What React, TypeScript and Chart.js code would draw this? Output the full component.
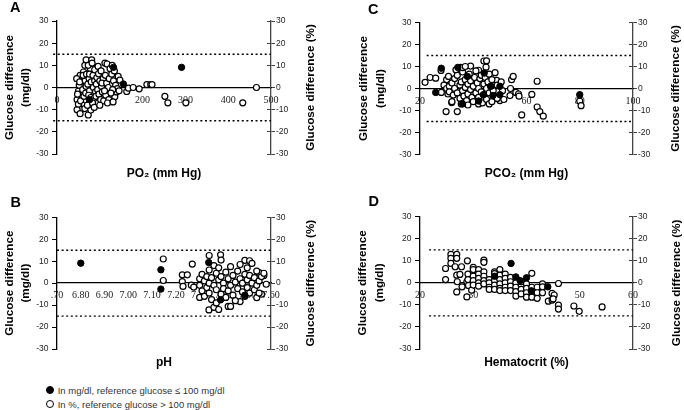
import React, { useEffect, useRef } from 'react';
import { Chart, registerables } from 'chart.js';

Chart.register(...registerables);

type Pt = [number, number];

// ---------- shared ----------
const limitValues = [15, -15];
const diffMin = -30;
const diffMax = 30;
const diffStep = 10;
const leftTitle = ['Glucose difference', '(mg/dl)'];
const rightTitle = 'Glucose difference (%)';
const legendLabels = ['In mg/dl, reference glucose \u2264 100 mg/dl', 'In %, reference glucose > 100 mg/dl'];

// ---------- Panel A: PO2 ----------
const po2Ticks = [0, 100, 200, 300, 400, 500];
const po2TickLabels = ['0', '100', '200', '300', '400', '500'];
const po2LimitSpan = [-9, 500];
const po2Open: Pt[] = [
  [47, -5.5], [47, -10], [54, -11.8], [50, -1.7], [54, 5.5], [46, 4], [52, 1], [48, -3], [50, -7.5], [55, -6], [53, 2.5],
  [65, 10], [68, 12.5], [62, 7], [60, -1], [63, -4], [66, 3], [64, -8], [68, 0.5], [61, 5.5], [67, -2.5], [65, -9.5], [69, 6],
  [73, -12.4], [79, -10.2], [78, 8.5], [81, 12.5], [75, 4], [72, 1.5], [76, -1.5], [74, -3.5], [77, -6.5], [71, -8], [80, 2.5], [79, -4.5], [73, 10], [76, 6],
  [84, 5.5], [88, 3], [85, 0], [90, -2], [86, -5], [92, 1.5], [94, 9.2], [88, 8], [91, -4], [83, -7], [93, 4.5], [87, -9], [95, -1], [82, 11],
  [97, 6.2], [100, 3], [104, 0.5], [98, -3], [102, -5.5], [106, -2], [108, 4], [96, 9.5], [103, 7.5], [109, -6], [105, 2], [100, -8],
  [112, 11], [117, 10.6], [113, 5.5], [116, 2], [119, -1], [114, -3.5], [121, -5.5], [118, -7], [124, 8.5], [122, 4], [120, 0], [111, -1.5],
  [128, 6], [132, 3], [135, -4.2], [131, -6.5], [139, -2], [143, 5], [147, 3.3], [137, 1], [141, -0.5], [130, -1], [134, 7.5], [126, -2.5], [129, 10], [145, -1.5],
  [163, -1.8], [167, -0.3], [178, 0], [192, -0.6], [210, 1.3], [219, 1.3], [222, 1.3], [252, -4], [259, -6.9], [301, -6.9], [434, -6.9], [466, 0],
];
const po2Filled: Pt[] = [[291, 9.1], [132, 9.1], [155, 1.6], [76, -5.5]];

// ---------- Panel B: pH ----------
const phTicks = [6.7, 6.8, 6.9, 7.0, 7.1, 7.2, 7.3, 7.4, 7.5, 7.6];
const phTickLabels = ['.70', '6.80', '6.90', '7.00', '7.10', '7.20', '7.30', '7.40', '7.50', '7.60'];
const phLimitSpan = [6.7, 7.6];
const phOpen: Pt[] = [
  [7.147, 11], [7.147, 1.2], [7.227, 3.8], [7.227, 0.7], [7.23, -1.5], [7.248, 3.8], [7.269, 8.7], [7.265, -0.9], [7.275, -1.8],
  [7.34, 12.6], [7.388, 12.9], [7.339, -12.2], [7.36, -11], [7.38, -12], [7.42, -10.6], [7.43, -10.6], [7.47, -8.4], [7.49, 10.4], [7.51, 10.2],
  [7.54, -6.6], [7.55, 4.8], [7.57, 3.5], [7.56, -5],
  [7.30, 2], [7.30, -1], [7.30, -6.5], [7.31, 4], [7.31, -3.5], [7.32, 1], [7.32, -6], [7.33, 3], [7.33, -2], [7.34, 6], [7.34, 0], [7.34, -4.5],
  [7.35, 2.5], [7.35, -7.5], [7.36, 8], [7.36, -1], [7.37, 4.5], [7.37, -3], [7.37, -9], [7.38, 1.5], [7.38, 7], [7.39, -5], [7.39, 3], [7.39, 10.5],
  [7.40, 0], [7.40, -2.5], [7.41, 5], [7.41, -6.5], [7.42, 2], [7.42, -3.5], [7.43, 7.5], [7.43, -1], [7.44, 3.5], [7.44, -5.5], [7.45, 0.5], [7.45, -8],
  [7.46, 5.5], [7.46, -2.5], [7.47, 2], [7.47, 8.5], [7.48, -4], [7.48, 0], [7.49, 4], [7.49, -6], [7.50, 1.5], [7.50, 7], [7.50, -2], [7.51, 3.5],
  [7.51, -4.5], [7.52, 0], [7.52, 9], [7.53, 2.5], [7.53, -3], [7.54, 5.5], [7.54, -1], [7.55, 1], [7.55, -4.5], [7.56, 3], [7.57, 4.5], [7.58, -0.5],
];
const phFilled: Pt[] = [[6.8, 9.1], [7.137, 6.1], [7.137, -2.7], [7.338, 9.4], [7.388, -7.6], [7.49, -5.5]];

// ---------- Panel C: PCO2 ----------
const pco2Ticks = [20, 40, 60, 80, 100];
const pco2TickLabels = ['20', '40', '60', '80', '100'];
const pco2LimitSpan = [22.5, 100];
const pco2Open: Pt[] = [
  [21.9, 2.8], [23.8, 5], [25.9, 4.7], [27.9, 8.2], [28, -1.8], [30, 4], [30.7, 5.5], [29.8, -10.5], [31.9, -6.4], [34, -10.5],
  [54.4, 4], [55, 5.5], [54, 0], [53.8, -3.2], [56, -1.8], [57, -2.5], [57.2, -3.5], [58.2, -12], [62, -2.7], [64, 3.3], [64, -8.4], [65, -10.5], [66.3, -12.6],
  [80, -5.7], [80.5, -7.8],
  [44, 12.5], [45, 12.6], [44.8, 9.7], [42, 8.3], [39, 10.2], [35.2, 9.6], [48.2, 7.2], [48.8, 3.7], [50, -5.5],
  [29, 1.5], [30, 0], [30.5, -2.5], [31, 1], [31, -1.5], [32, 2.5], [32, -6], [32.5, -3], [33, 0], [33, 4.5], [33.5, 8.5], [34, -2], [34, 6],
  [35, 1.5], [35, -4.5], [35.5, 3], [35.5, -7], [36, -1], [36, 7.5], [36, 9.5], [36.5, -3.5], [37, 0.5], [37, 4], [37, 10], [37.5, -5.5], [38, 2],
  [38, -2.5], [38, -7.5], [38.5, 6.5], [39, -0.5], [39, 3.5], [39.5, -4], [40, 1], [40, -6], [40.5, 5], [41, -2], [41, 8], [41.5, 2.5], [42, -4],
  [42, 0], [42, -7], [42.5, 4.5], [43, -1.5], [43, 6], [43.5, -6.5], [44, 2], [44, -3], [44.5, 5], [45, 0], [45, -5], [45.5, 3], [46, -2], [46, 6.5],
  [46, -7], [46.5, 1], [47, -6], [47, 4], [47.5, -1], [48, -3.5], [49, 1.5], [49, -4.5], [50.5, 3], [51, -1], [51.5, -5],
];
const pco2Filled: Pt[] = [
  [28, 9.2], [25.9, -1.8], [34.2, 9.6], [37.8, 5.5], [36, -7], [42, -5.7], [44.1, 7], [46.7, 1], [47.4, -3.2], [50, -2.8], [50, 1], [80, -2.8], [43.8, -2.8],
];

// ---------- Panel D: Hematocrit ----------
const hctTicks = [20, 30, 40, 50, 60];
const hctTickLabels = ['20', '30', '40', '50', '60'];
const hctLimitSpan = [21.7, 60];
const hctOpen: Pt[] = [
  [24.8, 1.5], [24.8, 6.5], [25.8, 12.9], [26.9, 12.9], [25.8, 11.1], [26.9, 11.1], [25.8, 8.8], [26.6, 7.3], [26.9, 3.5], [27.9, -1.8],
  [26.9, -4.1], [28.9, 10], [28.8, -6.4], [27.8, 7.3], [27, 0.5], [27.5, 3.8], [28.8, 0.5], [29.1, -1.2], [29.7, -3.3], [29, 4], [29, 1.5],
  [30, 7], [30, 5], [30, 3], [30, 1], [30, -1], [30, 6],
  [31, 6], [31, 4], [31, 2], [31, 0], [31, -1.5],
  [32, 10.3], [32, 9.3], [32, 5], [32, 3], [32, 1], [32, -0.5],
  [33, 1.5], [33, 0], [33, -2], [33, -3],
  [34, 5], [34, 1], [34, -1], [34, -3], [34, 4.2],
  [35, 6], [35, 3.5], [35, 1.5], [35, -0.5], [35, -2.5], [35, -3.5],
  [36, 4], [36, 2], [36, 0], [36, -2], [36, -3.5],
  [37, 2.5], [37, 0.5], [37, -1.5], [37, -3.5],
  [38, 0], [38, -2], [38, -4], [38, -6],
  [39, -1], [39, -3], [39, -5], [39, 0.5],
  [40, -0.5], [40, -2.5], [40, -4.5], [40, -6.5],
  [41, 4.3], [41, -2], [41, -4], [41, -6.5],
  [42, -2], [42, -4.5], [42, -7],
  [43, -0.5], [43, -1.8], [43, -4.5],
  [44.1, -8.3], [44.8, -4.8], [44.8, -7.8],
  [46, -0.3], [45.2, -5.5], [45, -7.3], [46, -10.1], [46, -11.9], [48.9, -10.5], [49.9, -12.9], [54.2, -10.9],
];
const hctFilled: Pt[] = [[37.1, 8.8], [38, 2.7], [38.8, 1], [40, 2.3], [44, -1.8], [40.9, -3.6], [34, 3]];

// ---------- layout / style ----------
const SANS = '"Liberation Sans", Arial, Helvetica, sans-serif';
const SERIF = '"Liberation Serif", "Times New Roman", serif';

interface PanelSpec {
  key: string;
  left: number; top: number; width: number; height: number;
  padTop: number; padBottom: number;
  leftW: number; rightW: number; bottomH: number;
  xMin: number; xMax: number;
  xTicks: number[]; xTickLabels: string[];
  xTitle: string; xTitlePad: number;
  leftTitlePad: number; rightGap: number;
  open: Pt[]; filled: Pt[]; limitSpan: number[];
}

const panels: PanelSpec[] = [
  {
    key: 'A', left: 0, top: 0, width: 342, height: 200, padTop: 21, padBottom: 0,
    leftW: 57, rightW: 71, bottomH: 46, xMin: 0, xMax: 500, xTicks: po2Ticks, xTickLabels: po2TickLabels,
    xTitle: 'PO\u2082 (mm Hg)', xTitlePad: 18.8, leftTitlePad: 1.3, rightGap: 40,
    open: po2Open, filled: po2Filled, limitSpan: po2LimitSpan,
  },
  {
    key: 'C', left: 342, top: 0, width: 342, height: 200, padTop: 22.5, padBottom: 0,
    leftW: 78, rightW: 51, bottomH: 45.5, xMin: 20, xMax: 100, xTicks: pco2Ticks, xTickLabels: pco2TickLabels,
    xTitle: 'PCO\u2082 (mm Hg)', xTitlePad: 18.8, leftTitlePad: 14, rightGap: 43,
    open: pco2Open, filled: pco2Filled, limitSpan: pco2LimitSpan,
  },
  {
    key: 'B', left: 0, top: 200, width: 342, height: 180, padTop: 17.3, padBottom: 0,
    leftW: 57, rightW: 71, bottomH: 31, xMin: 6.7, xMax: 7.6, xTicks: phTicks, xTickLabels: phTickLabels,
    xTitle: 'pH', xTitlePad: 10.3, leftTitlePad: 1.3, rightGap: 40,
    open: phOpen, filled: phFilled, limitSpan: phLimitSpan,
  },
  {
    key: 'D', left: 342, top: 200, width: 342, height: 180, padTop: 16.7, padBottom: 0,
    leftW: 78, rightW: 51, bottomH: 31, xMin: 20, xMax: 60, xTicks: hctTicks, xTickLabels: hctTickLabels,
    xTitle: 'Hematocrit (%)', xTitlePad: 10.3, leftTitlePad: 12.8, rightGap: 44,
    open: hctOpen, filled: hctFilled, limitSpan: hctLimitSpan,
  },
];

const toXY = (pts: Pt[]) => pts.map(([x, y]) => ({ x, y }));

function makeRightTitle(gap: number) {
  return {
    id: 'rightTitle',
    afterDraw(chart: any) {
      const { ctx, chartArea } = chart;
      const x = chart.scales.yr.left + gap;
      const y = (chartArea.top + chartArea.bottom) / 2;
      ctx.save();
      ctx.translate(x, y);
      ctx.rotate(-Math.PI / 2);
      ctx.font = `bold 11.7px ${SANS}`;
      ctx.fillStyle = '#000';
      ctx.textAlign = 'center';
      ctx.textBaseline = 'middle';
      ctx.fillText(rightTitle, 0, 0);
      ctx.restore();
    },
  };
}

function Panel({ s }: { s: PanelSpec }) {
  const ref = useRef<HTMLCanvasElement>(null);
  useEffect(() => {
    const canvas = ref.current;
    if (!canvas) return;
    const tickFont = { family: SANS, size: 8.5 };
    const chart = new Chart(canvas, {
      type: 'scatter',
      data: {
        datasets: [
          {
            label: 'filled', data: toXY(s.filled), xAxisID: 'x', yAxisID: 'y',
            pointStyle: 'circle', pointRadius: 3.2, pointBackgroundColor: '#000', pointBorderColor: '#000', pointBorderWidth: 1,
          },
          {
            label: 'open', data: toXY(s.open), xAxisID: 'x', yAxisID: 'y',
            pointStyle: 'circle', pointRadius: 3, pointBackgroundColor: '#fff', pointBorderColor: '#000', pointBorderWidth: 1.2,
          },
          ...limitValues.map((lv) => ({
            label: 'limit', data: s.limitSpan.map((x) => ({ x, y: lv })), xAxisID: 'x', yAxisID: 'y',
            showLine: true, borderColor: '#000', borderWidth: 1.3, borderDash: [2, 2.6], pointRadius: 0, clip: 6,
          })),
        ],
      } as any,
      options: {
        responsive: false,
        maintainAspectRatio: false,
        animation: false,
        events: [],
        layout: { padding: { top: s.padTop, bottom: s.padBottom, left: 0, right: 0 } },
        plugins: { legend: { display: false }, tooltip: { enabled: false }, title: { display: false } },
        scales: {
          x: {
            type: 'linear', min: s.xMin, max: s.xMax, position: { y: 0 },
            afterBuildTicks: (sc: any) => { sc.ticks = s.xTicks.map((v) => ({ value: v })); },
            afterFit: (sc: any) => { sc.paddingLeft = 0; sc.paddingRight = 0; },
            ticks: {
              autoSkip: false, maxRotation: 0, minRotation: 0, padding: 6.5,
              font: { family: SERIF, size: 10 }, color: '#222',
              callback: (_v: any, i: number) => s.xTickLabels[i],
            },
            grid: { display: false, drawTicks: false },
            border: { display: true, color: '#000', width: 1.3 },
          },
          xt: {
            type: 'linear', position: 'bottom', min: 0, max: 1,
            ticks: { display: false }, grid: { display: false, drawTicks: false }, border: { display: false },
            title: {
              display: true, text: s.xTitle, color: '#000',
              font: { family: SANS, size: 12, weight: 'bold', lineHeight: 1.2 },
              padding: { top: 0, bottom: s.xTitlePad },
            },
            afterFit: (sc: any) => { sc.height = s.bottomH; sc.paddingLeft = 0; sc.paddingRight = 0; },
          },
          y: {
            type: 'linear', position: 'left', min: diffMin, max: diffMax,
            ticks: { stepSize: diffStep, padding: 3.5, font: tickFont, color: '#222' },
            grid: { drawOnChartArea: false, drawTicks: true, tickLength: 5, color: '#000', lineWidth: 1 },
            border: { display: true, color: '#000', width: 1.3 },
            title: {
              display: true, text: leftTitle, color: '#000',
              font: { family: SANS, size: 11.7, weight: 'bold', lineHeight: 16.5 / 11.7 },
              padding: { top: s.leftTitlePad, bottom: 0 },
            },
            afterFit: (sc: any) => { sc.width = s.leftW; sc.paddingTop = 0; sc.paddingBottom = 0; },
          },
          yr2: {
            type: 'linear', position: 'right', weight: -1, min: diffMin, max: diffMax,
            ticks: { stepSize: diffStep, display: false },
            grid: { drawOnChartArea: false, drawTicks: true, tickLength: -4, color: '#444', lineWidth: 1 },
            border: { display: false },
            afterFit: (sc: any) => { sc.width = 0; sc.paddingTop = 0; sc.paddingBottom = 0; },
          },
          yr: {
            type: 'linear', position: 'right', weight: 0, min: diffMin, max: diffMax,
            ticks: { stepSize: diffStep, padding: 1, font: tickFont, color: '#222' },
            grid: { drawOnChartArea: false, drawTicks: true, tickLength: 4, color: '#444', lineWidth: 1 },
            border: { display: true, color: '#444', width: 1.3 },
            afterFit: (sc: any) => { sc.width = s.rightW; sc.paddingTop = 0; sc.paddingBottom = 0; },
          },
        },
      } as any,
      plugins: [makeRightTitle(s.rightGap)],
    });
    return () => chart.destroy();
  }, [s]);
  return (
    <canvas
      ref={ref}
      width={s.width}
      height={s.height}
      style={{ position: 'absolute', left: s.left, top: s.top, width: s.width, height: s.height }}
    />
  );
}

const letterPos = [
  { t: 'A', left: 10, top: -1 },
  { t: 'C', left: 368, top: 0.5 },
  { t: 'B', left: 10.5, top: 193.5 },
  { t: 'D', left: 368.5, top: 193 },
];

export default function App() {
  return (
    <div
      style={{
        position: 'absolute', left: 0, top: 0, width: 684, height: 410,
        background: '#fff', overflow: 'hidden', fontFamily: SANS,
      }}
    >
      {panels.map((p) => <Panel key={p.key} s={p} />)}
      {letterPos.map((l) => (
        <div
          key={l.t}
          style={{
            position: 'absolute', left: l.left, top: l.top, fontSize: 14.5, lineHeight: '16px',
            fontWeight: 'bold', color: '#000', fontFamily: SANS,
          }}
        >
          {l.t}
        </div>
      ))}
      {legendLabels.map((txt, i) => (
        <div
          key={txt}
          style={{
            position: 'absolute', left: 46, top: 383 + i * 14.3, height: 14, display: 'flex', alignItems: 'center',
            fontSize: 9.5, color: '#333', fontFamily: SANS, whiteSpace: 'nowrap',
          }}
        >
          <span
            style={{
              display: 'inline-block', width: 8, height: 8, boxSizing: 'border-box', borderRadius: '50%',
              border: '1.3px solid #000', background: i === 0 ? '#000' : '#fff', marginRight: 3.7,
            }}
          />
          <span>{txt}</span>
        </div>
      ))}
    </div>
  );
}
